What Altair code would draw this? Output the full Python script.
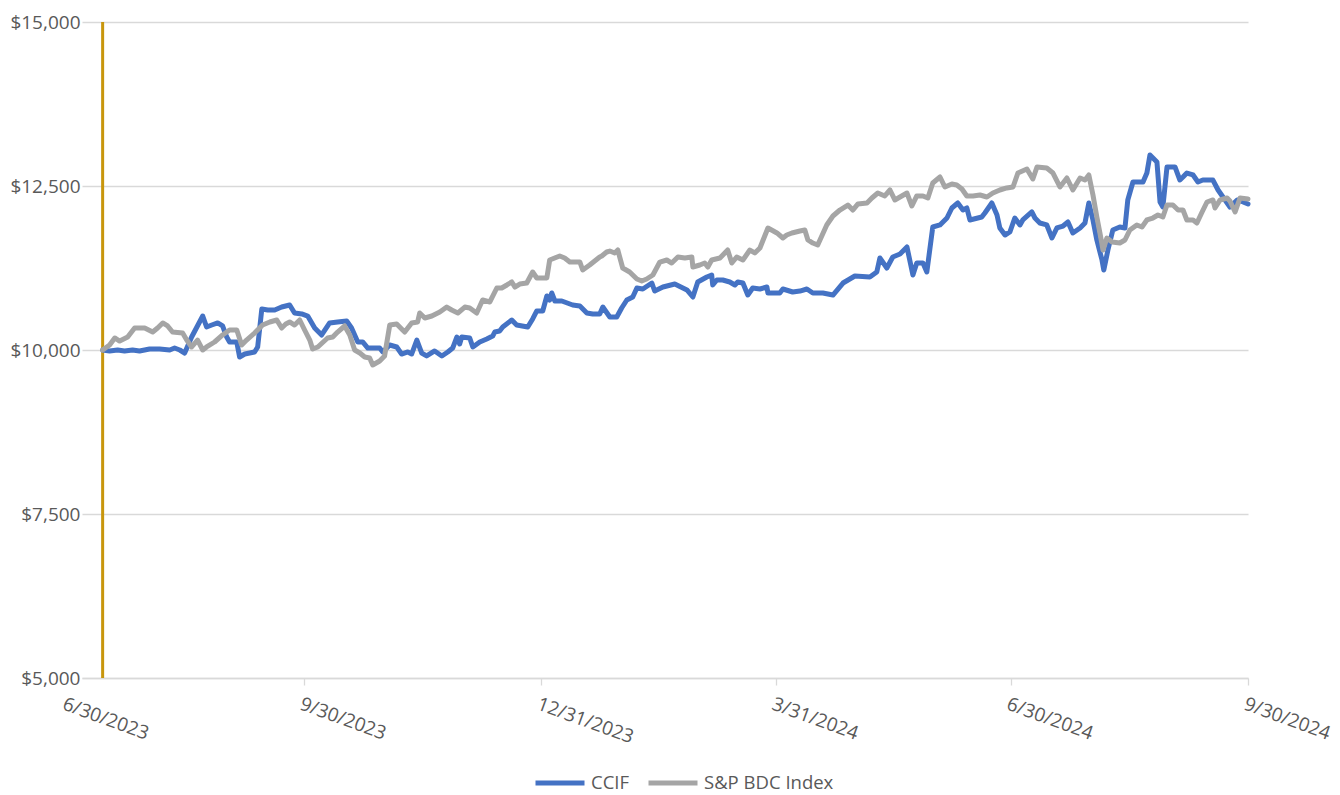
import altair as alt
import pandas as pd

# ---- data ----
start_date = "2023-07-14"  # first observation (growth of $10,000 starts here)

# days after start_date, and value of a $10,000 investment
ccif_day = [0.0, 2.7, 5.8, 8.5, 11.6, 14.3, 18.2, 22.1, 26.0, 27.9, 29.9, 31.8, 34.5, 38.8, 40.3, 42.3,
            44.6, 46.5, 48.1, 49.2, 52.0, 53.1, 55.1, 58.9, 60.1, 61.7, 64.0, 66.7, 69.4, 72.5, 74.4,
            77.2, 79.5, 82.2, 84.9, 88.0, 91.1, 94.6, 96.5, 98.9, 100.8, 102.8, 107.4, 108.6, 111.3,
            114.0, 115.9, 118.3, 119.8, 121.8, 123.7, 125.6, 128.7, 131.5, 133.8, 135.7, 137.3, 138.4,
            139.2, 142.3, 143.5, 146.2, 148.9, 151.2, 152.0, 153.9, 155.1, 158.6, 160.5, 164.8, 166.7,
            168.3, 170.6, 172.2, 173.3, 174.1, 175.3, 178.0, 182.2, 185.0, 187.7, 190.0, 192.7, 193.9,
            196.6, 199.3, 201.2, 203.2, 205.5, 207.1, 209.4, 212.9, 214.0, 217.2, 221.8, 226.5, 228.8,
            230.7, 234.2, 236.1, 236.5, 238.1, 240.4, 243.1, 245.1, 246.2, 248.2, 250.1, 252.0, 254.8,
            257.5, 257.9, 262.5, 263.7, 267.5, 270.3, 273.0, 275.3, 279.2, 283.1, 287.0, 291.6, 297.4,
            300.1, 301.3, 304.0, 306.3, 309.1, 311.8, 314.1, 315.6, 318.0, 319.5, 321.8, 324.6, 327.3,
            329.2, 331.5, 333.5, 335.0, 336.2, 340.8, 342.0, 344.7, 346.7, 347.8, 349.8, 351.7, 353.6,
            355.6, 356.7, 360.2, 361.4, 363.3, 366.0, 368.0, 369.9, 372.3, 374.2, 376.1, 378.9, 380.8,
            382.3, 383.9, 385.4, 387.4, 388.1, 389.7, 391.6, 394.3, 396.3, 397.4, 399.4, 403.3, 404.8,
            406.0, 408.7, 409.9, 411.0, 412.6, 415.7, 417.6, 418.8, 420.3, 422.7, 424.6, 426.5, 430.4,
            432.4, 435.1, 437.0, 439.8, 442.1, 444.0]
ccif_val = [10000, 9985, 10000, 9985, 10000, 9985, 10015, 10015, 10000, 10030, 10000, 9954, 10198, 10518,
            10351, 10381, 10412, 10366, 10198, 10122, 10122, 9893, 9939, 9970, 10046, 10625, 10610, 10610,
            10655, 10686, 10564, 10549, 10518, 10335, 10229, 10412, 10427, 10442, 10335, 10122, 10122,
            10030, 10030, 9970, 10076, 10046, 9939, 9970, 9939, 10152, 9954, 9909, 9985, 9909, 9970,
            10030, 10198, 10091, 10198, 10183, 10046, 10122, 10168, 10213, 10274, 10290, 10351, 10457,
            10381, 10351, 10473, 10595, 10595, 10823, 10762, 10869, 10747, 10747, 10686, 10671, 10564,
            10549, 10549, 10655, 10503, 10503, 10640, 10762, 10808, 10945, 10930, 11021, 10899, 10960,
            11006, 10915, 10808, 11037, 11113, 11143, 10991, 11067, 11067, 11037, 10991, 11037, 11021,
            10838, 10945, 10930, 10960, 10869, 10869, 10930, 10884, 10899, 10930, 10869, 10869, 10838,
            11021, 11128, 11113, 11189, 11402, 11250, 11418, 11463, 11570, 11143, 11326, 11326, 11189,
            11875, 11906, 12012, 12165, 12241, 12134, 12165, 11982, 12027, 12088, 12241, 12058, 11860,
            11753, 11799, 12012, 11906, 11982, 12104, 12012, 11936, 11906, 11707, 11860, 11890, 11951,
            11784, 11860, 11936, 12241, 11982, 11677, 11372, 11220, 11524, 11829, 11875, 11860, 12287,
            12561, 12561, 12698, 12973, 12866, 12256, 12180, 12790, 12790, 12591, 12637, 12698, 12668,
            12561, 12591, 12591, 12439, 12287, 12180, 12287, 12256, 12226]

bdc_day = [0.0, 2.7, 4.7, 6.6, 9.7, 12.4, 16.3, 19.4, 21.3, 23.3, 25.2, 27.1, 31.0, 32.6, 34.5, 36.8,
           38.8, 40.3, 43.4, 46.5, 49.2, 52.0, 53.9, 55.8, 58.9, 62.0, 64.8, 67.5, 69.4, 71.0, 72.5,
           74.4, 76.4, 78.3, 80.3, 81.4, 83.4, 87.2, 89.2, 91.1, 93.8, 95.8, 97.7, 99.7, 101.6, 103.5,
           104.7, 107.4, 109.3, 111.3, 114.0, 116.3, 117.1, 119.8, 122.1, 122.9, 124.9, 127.6, 130.7,
           133.4, 135.3, 137.7, 140.4, 142.3, 145.0, 147.3, 150.1, 152.8, 154.7, 156.7, 158.6, 159.8,
           161.7, 164.4, 166.7, 168.3, 172.2, 173.3, 177.2, 179.1, 181.1, 185.0, 186.1, 188.8, 192.7,
           193.5, 195.4, 196.6, 198.5, 199.7, 201.6, 204.3, 207.1, 209.0, 210.9, 213.3, 216.0, 218.7,
           220.6, 223.0, 225.7, 228.4, 228.8, 231.5, 233.4, 234.6, 236.1, 239.3, 242.3, 243.9, 245.8,
           248.2, 250.9, 252.8, 254.8, 257.9, 261.4, 263.7, 265.2, 267.2, 270.3, 272.2, 273.4, 275.3,
           277.2, 280.7, 283.1, 285.8, 288.9, 290.8, 292.8, 296.3, 298.2, 300.5, 303.2, 305.2, 307.1,
           309.1, 311.8, 313.7, 315.6, 318.0, 319.9, 321.8, 324.6, 326.5, 329.2, 331.1, 333.1, 335.0,
           337.4, 340.1, 342.8, 345.1, 347.8, 350.5, 352.9, 354.8, 358.3, 360.6, 362.2, 366.0, 368.4,
           371.1, 373.8, 376.1, 378.9, 380.8, 382.3, 383.9, 385.4, 386.6, 387.8, 389.3, 391.3, 394.3,
           396.3, 398.2, 400.9, 402.9, 404.8, 407.1, 409.1, 411.0, 412.6, 414.9, 416.9, 418.8, 420.3,
           422.7, 424.2, 426.2, 428.1, 430.4, 431.2, 433.2, 435.9, 437.0, 439.0, 440.9, 444.0]
bdc_val = [10000, 10076, 10183, 10137, 10198, 10335, 10335, 10274, 10335, 10412, 10366, 10274, 10259,
           10152, 10046, 10152, 10000, 10046, 10122, 10229, 10305, 10305, 10076, 10152, 10259, 10381,
           10427, 10457, 10335, 10396, 10427, 10381, 10457, 10305, 10152, 10015, 10046, 10183, 10198,
           10274, 10366, 10229, 10000, 9954, 9893, 9878, 9771, 9832, 9909, 10381, 10396, 10305, 10274,
           10412, 10427, 10564, 10488, 10518, 10579, 10655, 10610, 10564, 10655, 10640, 10564, 10762,
           10732, 10945, 10945, 10991, 11037, 10960, 11006, 11021, 11189, 11098, 11098, 11372, 11433,
           11402, 11341, 11341, 11220, 11296, 11418, 11433, 11494, 11509, 11479, 11524, 11250, 11189,
           11082, 11052, 11082, 11143, 11341, 11372, 11326, 11418, 11402, 11418, 11265, 11296, 11326,
           11265, 11372, 11402, 11524, 11326, 11418, 11372, 11524, 11479, 11555, 11860, 11784, 11707,
           11753, 11784, 11814, 11829, 11677, 11631, 11601, 11906, 12043, 12134, 12210, 12134, 12226,
           12241, 12317, 12393, 12348, 12439, 12287, 12332, 12393, 12195, 12348, 12348, 12317, 12546,
           12637, 12485, 12531, 12515, 12454, 12348, 12348, 12363, 12332, 12393, 12439, 12470, 12485,
           12698, 12759, 12607, 12790, 12774, 12698, 12485, 12622, 12439, 12622, 12591, 12668, 12363,
           12027, 11784, 11524, 11707, 11646, 11631, 11677, 11829, 11906, 11875, 11982, 12012, 12058,
           12027, 12210, 12210, 12134, 12134, 11982, 11982, 11936, 12104, 12256, 12287, 12165, 12287,
           12317, 12271, 12104, 12317, 12302]

series_names = ["CCIF", "S&P BDC Index"]
series_colors = ["#4472C4", "#A5A5A5"]

tick_dates = ["2023-06-30", "2023-09-30", "2023-12-31", "2024-03-31", "2024-06-30", "2024-09-30"]
tick_labels = ["6/30/2023", "9/30/2023", "12/31/2023", "3/31/2024", "6/30/2024", "9/30/2024"]
y_ticks = [5000, 7500, 10000, 12500, 15000]

# ---- tables ----
t0 = pd.Timestamp(start_date)
df = pd.concat([
    pd.DataFrame({"date": t0 + pd.to_timedelta(ccif_day, unit="D"), "value": ccif_val, "series": series_names[0]}),
    pd.DataFrame({"date": t0 + pd.to_timedelta(bdc_day, unit="D"), "value": bdc_val, "series": series_names[1]}),
], ignore_index=True)

ticks_df = pd.DataFrame({"date": pd.to_datetime(tick_dates), "label": tick_labels})
rule_df = pd.DataFrame({"date": [t0]})

W, H = 1166, 656
FONT = "Open Sans"
TXT = "#595959"
GRID = "#D9D9D9"

x_scale = alt.Scale(domain=[alt.DateTime(year=2023, month=7, date=6),
                            alt.DateTime(year=2024, month=9, date=30)])
x_axis_vals = [alt.DateTime(year=int(d[:4]), month=int(d[5:7]), date=int(d[8:])) for d in tick_dates[1:]]

x_axis = alt.Axis(values=x_axis_vals, labels=False, grid=False, ticks=True, tickSize=7,
                  tickColor=GRID, tickWidth=1.3, domainColor=GRID, domainWidth=1.3, title=None)

y_enc = alt.Y("value:Q",
              scale=alt.Scale(domain=[5000, 15000], nice=False, zero=False),
              axis=alt.Axis(values=y_ticks, format="$,.0f", grid=True, gridColor=GRID, gridWidth=1.3,
                            domain=False, ticks=False, labelPadding=2, labelFontSize=19,
                            labelFont=FONT, labelColor=TXT, title=None))

rule = alt.Chart(rule_df).mark_rule(color="#C8960C", strokeWidth=3).encode(
    x=alt.X("date:T", scale=x_scale, axis=x_axis)
)

lines = alt.Chart(df).mark_line(strokeWidth=5, strokeJoin="round", strokeCap="round").encode(
    x=alt.X("date:T", scale=x_scale, axis=x_axis),
    y=y_enc,
    color=alt.Color("series:N",
                    scale=alt.Scale(domain=series_names, range=series_colors),
                    legend=alt.Legend(orient="none", legendX=451, legendY=734, direction="horizontal",
                                      title=None, symbolType="stroke", symbolSize=2401,
                                      symbolStrokeWidth=5, labelFontSize=18.5, labelFont=FONT,
                                      labelColor=TXT, labelOffset=4, columnPadding=8, padding=0)),
)

xlabels = alt.Chart(ticks_df).mark_text(angle=20, align="left", baseline="top", fontSize=19,
                                        font=FONT, color=TXT).encode(
    x=alt.X("date:T", scale=x_scale, axis=x_axis),
    y=alt.value(H + 17),
    text="label:N",
)

chart = alt.layer(rule, lines, xlabels).properties(
    width=W, height=H,
    background="white",
    autosize=alt.AutoSizeParams(type="none"),
    padding={"left": 82, "top": 22, "right": 92, "bottom": 117},
).configure_view(stroke=None)

chart.save("out.html", embed_options={"renderer": "svg", "actions": False})
